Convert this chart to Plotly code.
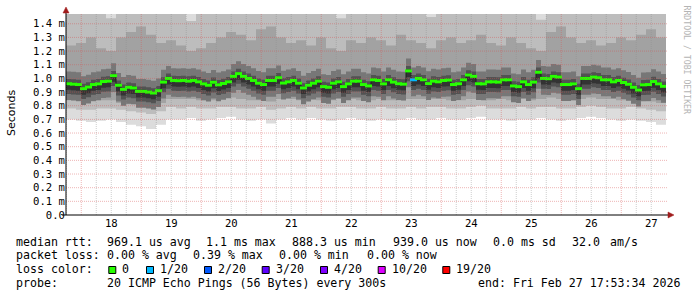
import plotly.graph_objects as go

# ------------------------------------------------------------------ data
# time axis: day-of-month (Feb 2026); graph spans 10 days ending Feb 27 17:53:34
END_DAY = 27 + (17 + 53 / 60 + 34 / 3600) / 24
START_DAY = END_DAY - 10.0

# median rtt (ms), one value per 2-hour step (120 steps)
median_ms = [
    0.961, 0.958, 0.955, 0.925, 0.937, 0.955, 0.960, 0.977, 0.980, 1.020,
    0.950, 0.920, 0.935, 0.930, 0.905, 0.905, 0.900, 0.893, 0.910, 0.973,
    1.000, 0.985, 0.983, 0.985, 0.980, 0.985, 0.975, 0.960, 0.950, 0.972,
    0.953, 0.963, 0.975, 1.015, 1.035, 1.015, 1.000, 0.985, 0.965, 0.955,
    0.985, 0.985, 1.005, 0.966, 0.975, 0.985, 0.965, 0.930, 0.950, 0.965,
    0.980, 0.940, 0.935, 0.965, 0.975, 0.940, 0.960, 0.980, 0.980, 0.955,
    0.945, 0.990, 0.985, 0.960, 0.990, 0.973, 0.961, 0.958, 1.055, 0.990,
    1.000, 0.990, 0.962, 0.980, 0.975, 0.985, 0.988, 0.955, 0.961, 0.990,
    1.025, 1.015, 0.961, 0.960, 0.975, 0.975, 0.973, 0.990, 0.990, 0.945,
    0.940, 0.975, 0.955, 0.973, 1.045, 1.000, 0.998, 1.015, 1.010, 0.955,
    0.955, 0.960, 0.925, 1.000, 1.000, 1.010, 1.005, 0.990, 0.990, 0.975,
    0.985, 0.970, 0.957, 0.935, 0.915, 0.953, 0.955, 0.977, 0.960, 0.942,
]

# lost pings (of 20) per step
loss_count = [
    0, 0, 0, 0, 0, 0, 0, 0, 0, 0, 0, 0, 0, 0, 0, 0, 0, 0, 0, 0,
    0, 0, 0, 0, 0, 0, 0, 0, 0, 0, 0, 0, 0, 0, 0, 0, 0, 0, 0, 0,
    0, 0, 0, 0, 0, 0, 0, 0, 0, 0, 0, 0, 0, 0, 0, 0, 0, 0, 0, 0,
    0, 0, 0, 0, 0, 0, 0, 0, 0, 1, 0, 0, 0, 0, 0, 0, 0, 0, 0, 0,
    0, 0, 0, 0, 0, 0, 0, 0, 0, 0, 0, 0, 0, 0, 0, 0, 0, 0, 0, 0,
    0, 0, 0, 0, 0, 0, 0, 0, 0, 0, 0, 0, 0, 0, 0, 0, 0, 0, 0, 0,
]

# smoke: ping distribution (ms), one value per 4-hour column (60 columns)
ping_min = [
    0.70, 0.69, 0.68, 0.69, 0.70, 0.68, 0.66, 0.65, 0.63, 0.66,
    0.70, 0.70, 0.71, 0.69, 0.70, 0.71, 0.72, 0.70, 0.69, 0.70,
    0.67, 0.70, 0.71, 0.70, 0.71, 0.70, 0.69, 0.70, 0.71, 0.70,
    0.69, 0.70, 0.69, 0.70, 0.71, 0.70, 0.70, 0.71, 0.70, 0.70,
    0.71, 0.72, 0.70, 0.70, 0.69, 0.70, 0.70, 0.71, 0.70, 0.69,
    0.70, 0.71, 0.72, 0.71, 0.70, 0.69, 0.70, 0.69, 0.68, 0.66,
]
ping_p10 = [
    0.78, 0.77, 0.77, 0.78, 0.78, 0.77, 0.76, 0.75, 0.74, 0.76,
    0.79, 0.78, 0.79, 0.78, 0.78, 0.79, 0.79, 0.78, 0.78, 0.79,
    0.77, 0.78, 0.79, 0.78, 0.79, 0.78, 0.78, 0.79, 0.79, 0.78,
    0.78, 0.79, 0.78, 0.78, 0.79, 0.78, 0.79, 0.79, 0.78, 0.78,
    0.79, 0.80, 0.78, 0.78, 0.78, 0.79, 0.78, 0.79, 0.79, 0.78,
    0.78, 0.79, 0.80, 0.79, 0.78, 0.78, 0.79, 0.78, 0.77, 0.76,
]
ping_p25 = [
    0.84, 0.83, 0.83, 0.84, 0.84, 0.82, 0.81, 0.80, 0.80, 0.82,
    0.85, 0.85, 0.85, 0.84, 0.84, 0.85, 0.86, 0.85, 0.84, 0.84,
    0.83, 0.85, 0.85, 0.84, 0.85, 0.84, 0.84, 0.85, 0.85, 0.84,
    0.84, 0.85, 0.84, 0.84, 0.85, 0.85, 0.85, 0.85, 0.84, 0.84,
    0.85, 0.86, 0.84, 0.85, 0.84, 0.85, 0.84, 0.85, 0.86, 0.85,
    0.84, 0.85, 0.86, 0.85, 0.85, 0.84, 0.85, 0.84, 0.83, 0.82,
]
ping_p75 = [
    1.24, 1.26, 1.30, 1.22, 1.20, 1.30, 1.34, 1.38, 1.32, 1.26,
    1.28, 1.24, 1.20, 1.22, 1.26, 1.30, 1.34, 1.32, 1.28, 1.36,
    1.38, 1.30, 1.26, 1.28, 1.24, 1.30, 1.22, 1.20, 1.28, 1.26,
    1.30, 1.28, 1.24, 1.32, 1.28, 1.26, 1.22, 1.28, 1.30, 1.26,
    1.28, 1.32, 1.26, 1.24, 1.30, 1.26, 1.22, 1.20, 1.34, 1.38,
    1.30, 1.26, 1.28, 1.24, 1.26, 1.30, 1.28, 1.32, 1.36, 1.30,
]
ping_p90 = [
    1.54, 1.60, 1.65, 1.50, 1.44, 1.62, 1.70, 1.70, 1.65, 1.55,
    1.60, 1.52, 1.42, 1.50, 1.58, 1.65, 1.68, 1.62, 1.60, 1.70,
    1.70, 1.62, 1.56, 1.60, 1.52, 1.65, 1.50, 1.44, 1.60, 1.58,
    1.62, 1.60, 1.54, 1.65, 1.60, 1.56, 1.45, 1.60, 1.65, 1.56,
    1.60, 1.66, 1.58, 1.52, 1.65, 1.58, 1.50, 1.43, 1.68, 1.70,
    1.62, 1.56, 1.60, 1.52, 1.58, 1.62, 1.60, 1.65, 1.70, 1.62,
]
ping_max = [
    1.90, 1.95, 2.00, 1.85, 1.80, 1.95, 2.10, 2.10, 2.00, 1.90,
    1.95, 1.85, 1.80, 1.85, 1.90, 2.00, 2.05, 1.95, 1.95, 2.10,
    2.10, 1.95, 1.90, 1.95, 1.85, 2.00, 1.85, 1.80, 1.95, 1.90,
    1.95, 1.95, 1.90, 2.00, 1.95, 1.90, 1.85, 1.95, 2.00, 1.90,
    1.95, 2.00, 1.90, 1.85, 2.00, 1.90, 1.85, 1.80, 2.05, 2.10,
    1.95, 1.90, 1.95, 1.85, 1.90, 1.95, 1.95, 2.00, 2.10, 1.95,
]

day_labels = ["18", "19", "20", "21", "22", "23", "24", "25", "26", "27"]
y_tick_values = [0.0, 0.1, 0.2, 0.3, 0.4, 0.5, 0.6, 0.7, 0.8, 0.9, 1.0, 1.1, 1.2, 1.3, 1.4]
y_tick_labels = ["0.0", "0.1 m", "0.2 m", "0.3 m", "0.4 m", "0.5 m", "0.6 m", "0.7 m",
                 "0.8 m", "0.9 m", "1.0 m", "1.1 m", "1.2 m", "1.3 m", "1.4 m"]

loss_labels = ["0", "1/20", "2/20", "3/20", "4/20", "10/20", "19/20"]
loss_thresholds = [0, 1, 2, 3, 4, 10, 19]
loss_colors = ["#26ff00", "#00b8ff", "#0059ff", "#5e00ff", "#7e00ff", "#dd00ff", "#ff0000"]

stats_line1 = [("median rtt:", 16), ("969.1 us avg", 106.5), ("1.1 ms max", 205.8),
               ("888.3 us min", 292), ("939.0 us now", 392.5), ("0.0 ms sd", 493.2),
               ("32.0", 571.6), ("am/s", 610)]
stats_line2 = [("packet loss:", 16), ("0.00 % avg", 106.5), ("0.39 % max", 192.5),
               ("0.00 % min", 278.5), ("0.00 % now", 366.5)]
stats_line4 = [("probe:", 16), ("20 ICMP Echo Pings (56 Bytes) every 300s", 106.5),
               ("end: Fri Feb 27 17:53:34 2026", 477.5)]

# ------------------------------------------------------------------ geometry / style
W, H = 697, 297
PL, PR, PT, PB = 66, 666, 14, 215          # plot area in pixels
PX_PER_MS = 136.6
Y_TOP = (PB - PT) / PX_PER_MS

MONO = "DejaVu Sans Mono"


def px(x):
    return (x - PL) / (PR - PL)


def py(y):
    return (PB - y) / (PB - PT)


n_med = len(median_ms)
n_col = len(ping_min)
med_step = (END_DAY - START_DAY) / n_med
col_step = (END_DAY - START_DAY) / n_col
x_med = [START_DAY + i * med_step for i in range(n_med + 1)]
x_col = [START_DAY + i * col_step for i in range(n_col + 1)]
x_med_center = [START_DAY + (i + 0.5) * med_step for i in range(n_med)]


def ext(a):
    return list(a) + [a[-1]]


fig = go.Figure()


def band(x, lo, hi, color):
    fig.add_trace(go.Scatter(x=x, y=ext(lo), mode="lines",
                             line=dict(width=0, shape="hv"), hoverinfo="skip"))
    fig.add_trace(go.Scatter(x=x, y=ext(hi), mode="lines",
                             line=dict(width=0, shape="hv"), fill="tonexty",
                             fillcolor=color, hoverinfo="skip"))


# smoke, outer (light) to inner (dark)
band(x_col, ping_min, ping_max, "#dcdcdc")
band(x_col, ping_p10, ping_p90, "#bdbdbd")
band(x_col, ping_p25, ping_p75, "#a2a2a2")
core_layers = [(0.12, 0.09, "#777777"), (0.075, 0.035, "#525252"), (0.045, 0.012, "#333333")]
for below, above, col in core_layers:
    band(x_med, [m - below for m in median_ms], [m + above for m in median_ms], col)

# median connectors + loss-coloured median marks
fig.add_trace(go.Scatter(x=x_med, y=ext(median_ms), mode="lines",
                         line=dict(width=1, shape="hv", color="#1e1e1e"), hoverinfo="skip"))


def loss_color(n):
    c = loss_colors[0]
    for t, colr in zip(loss_thresholds, loss_colors):
        if n >= t:
            c = colr
    return c


fig.add_trace(go.Scatter(
    x=x_med_center, y=median_ms, mode="markers", hoverinfo="skip",
    marker=dict(symbol="line-ew", size=med_step / (END_DAY - START_DAY) * (PR - PL),
                line=dict(width=3, color=[loss_color(n) for n in loss_count])),
))

# ------------------------------------------------------------------ grid (drawn over smoke)
shapes = []
MGRID = "rgba(215,80,80,0.42)"
GRID = "rgba(140,140,140,0.42)"
for v in y_tick_values[1:]:
    shapes.append(dict(type="line", xref="paper", yref="y", x0=0, x1=px(668), y0=v, y1=v,
                       line=dict(color=MGRID, width=1, dash="1px,1px"), layer="above"))
d = int(START_DAY * 4) / 4
while d <= END_DAY:
    if d > START_DAY:
        major = abs(d - round(d)) < 1e-9
        shapes.append(dict(type="line", xref="x", yref="paper", x0=d, x1=d, y0=0, y1=1,
                           line=dict(color=MGRID if major else GRID, width=1, dash="1px,1px"),
                           layer="above"))
    d += 0.25

# axes with arrows
AX = "#000000"
ARROW = "#a01c1c"
shapes.append(dict(type="line", xref="paper", yref="paper", x0=0, x1=0, y0=0, y1=py(13),
                   line=dict(color=AX, width=1), layer="above"))
shapes.append(dict(type="line", xref="paper", yref="paper", x0=px(62), x1=px(668), y0=0, y1=0,
                   line=dict(color=AX, width=1), layer="above"))
shapes.append(dict(type="path", xref="paper", yref="paper",
                   path=f"M {px(63)} {py(13)} L {px(66)} {py(7)} L {px(69)} {py(13)} Z",
                   fillcolor=ARROW, line=dict(color=ARROW, width=0.5), layer="above"))
shapes.append(dict(type="path", xref="paper", yref="paper",
                   path=f"M {px(668)} {py(212)} L {px(674)} {py(215)} L {px(668)} {py(218)} Z",
                   fillcolor=ARROW, line=dict(color=ARROW, width=0.5), layer="above"))

# ------------------------------------------------------------------ legend text
annotations = []
LEG_FONT = dict(family=MONO, size=11.6, color="#000000")


def text_at(t, x, y, font=LEG_FONT):
    annotations.append(dict(text=t, xref="paper", yref="paper", x=px(x), y=py(y),
                            xanchor="left", yanchor="middle", showarrow=False,
                            borderpad=0, borderwidth=0, font=font))


for t, x in stats_line1:
    text_at(t, x, 241.5)
for t, x in stats_line2:
    text_at(t, x, 255.2)
text_at("loss color:", 16, 269)
box_left = [108.3, 146, 204, 261.7, 320, 377.7, 442.3]
for lab, colr, bx in zip(loss_labels, loss_colors, box_left):
    shapes.append(dict(type="rect", xref="paper", yref="paper",
                       x0=px(bx + 0.5), x1=px(bx + 7.5), y0=py(266.5), y1=py(273.5),
                       fillcolor=colr, line=dict(color="#000000", width=1)))
    text_at(lab, bx + 14, 269)
for t, x in stats_line4:
    text_at(t, x, 283)

# axis title and watermark
annotations.append(dict(text="Seconds", xref="paper", yref="paper", x=px(11), y=py(113),
                        xanchor="center", yanchor="middle", textangle=-90, showarrow=False,
                        font=dict(family="DejaVu Sans", size=11, color="#000000")))
annotations.append(dict(text="RRDTOOL / TOBI OETIKER", xref="paper", yref="paper",
                        x=px(687), y=py(59.5), xanchor="center", yanchor="middle",
                        textangle=90, showarrow=False,
                        font=dict(family=MONO, size=8.2, color="#b4b4b4")))

fig.update_layout(
    width=W, height=H,
    margin=dict(l=PL, r=W - PR, t=PT, b=H - PB, pad=0),
    paper_bgcolor="#ffffff", plot_bgcolor="#ffffff",
    showlegend=False,
    shapes=shapes, annotations=annotations,
    xaxis=dict(range=[START_DAY, END_DAY], tickvals=[int(l) + 0.5 for l in day_labels],
               ticktext=day_labels, showgrid=False, zeroline=False, showline=False,
               ticks="", automargin=False, tickfont=dict(family=MONO, size=10.6, color="#000000")),
    yaxis=dict(range=[0, Y_TOP], tickvals=y_tick_values, ticktext=y_tick_labels,
               showgrid=False, zeroline=False, showline=False, ticks="", automargin=False,
               tickfont=dict(family=MONO, size=10.6, color="#000000")),
)

fig.write_html("out.html")
